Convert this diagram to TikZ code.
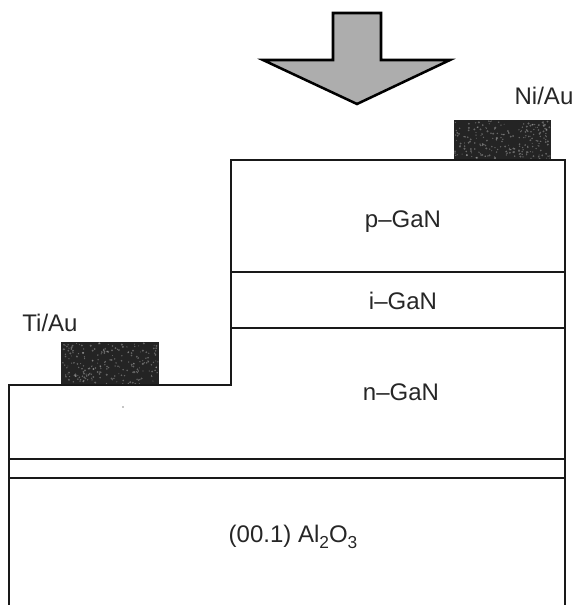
\documentclass[tikz,border=0pt]{standalone}
\usepackage{fontspec}
\setmainfont{Liberation Sans}
\tikzset{
  layerline/.style={line width=2pt,black!90,line join=miter},
  contact/.style={fill=black!86},
  speck/.style={fill=white,opacity=0.3},
  lbl/.style={font=\fontsize{18}{20}\selectfont,text=black!85,inner sep=0pt},
  bigarrow/.style={fill=black!32,draw=black,line width=1.9pt,line join=miter,miter limit=20}
}
\newcommand{\lowidx}[1]{\raisebox{-0.25em}{\fontsize{13}{14}\selectfont #1}}
\begin{document}
\begin{tikzpicture}[x=0.75pt,y=-0.75pt]
\useasboundingbox (0,0) rectangle (576,605);
% metal contacts
\fill[contact] (454,120) rectangle (551,160);
\fill[contact] (61,342) rectangle (159,385);
\pgfmathsetseed{4711}
\foreach \i in {1,...,220}{
  \pgfmathsetmacro{\px}{455+95*rnd}
  \pgfmathsetmacro{\py}{121+38*rnd}
  \pgfmathsetmacro{\qx}{62+96*rnd}
  \pgfmathsetmacro{\qy}{343+41*rnd}
  \pgfmathsetmacro{\rr}{0.5+0.6*rnd}
  \fill[speck] (\px,\py) circle (\rr);
  \fill[speck] (\qx,\qy) circle (\rr);
}
% device outline
\draw[layerline] (9,605) -- (9,385) -- (231,385) -- (231,160) -- (565,160) -- (565,605);
\draw[layerline] (231,272) -- (565,272);
\draw[layerline] (231,328) -- (565,328);
\draw[layerline] (9,459) -- (565,459);
\draw[layerline] (9,478) -- (565,478);
% light arrow
\draw[bigarrow] (333,13) -- (381,13) -- (381,60) -- (450,60) -- (357,104) -- (263,60) -- (333,60) -- cycle;
% stray speck
\fill[black!45] (123,407) circle (0.9);
% labels
\node[lbl] (pgan) at (403,222) {p–GaN};
\node[lbl] (igan) at (403,301) {i–GaN};
\node[lbl] (ngan) at (401,392) {n–GaN};
\node[lbl] (sub) at (293,537) {(00.1) Al\lowidx{2}O\lowidx{3}};
\node[lbl] (ni) at (544,96) {Ni/Au};
\node[lbl] (ti) at (50,323) {Ti/Au};
\end{tikzpicture}
\end{document}
